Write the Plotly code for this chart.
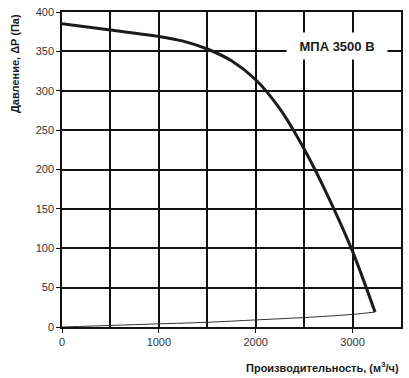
import plotly.graph_objects as go

# Pressure curve (Pa) vs flow (m3/h)
flow_p = [0, 500, 1000, 1250, 1500, 1750, 2000, 2250, 2500, 2750, 3000, 3232]
pressure = [385, 377, 369, 363, 353, 338, 314, 277, 226, 165, 96, 19]

# System curve
flow_s = [0, 500, 1000, 1500, 2000, 2500, 3000, 3232]
system = [0, 2, 4, 6, 9, 12, 16, 19]

label_text = "МПА 3500 В"
x_title = "Производительность, (м<sup>3</sup>/ч)"
y_title = "Давление, ΔP (Па)"

fig = go.Figure()
fig.add_trace(go.Scatter(x=flow_p, y=pressure, mode="lines",
                         line=dict(color="#1a1a1a", width=3, shape="spline", smoothing=0.8),
                         showlegend=False, hoverinfo="skip"))
fig.add_trace(go.Scatter(x=flow_s, y=system, mode="lines",
                         line=dict(color="#333333", width=1, shape="spline", smoothing=0.8),
                         showlegend=False, hoverinfo="skip"))

font = "Liberation Sans, Arial, sans-serif"
grid = dict(showgrid=True, gridcolor="#111111", gridwidth=1.5)
fig.update_layout(
    width=409, height=378,
    margin=dict(l=62, r=6, t=12, b=51),
    paper_bgcolor="white", plot_bgcolor="white",
    font=dict(family=font, size=11, color="#333333"),
    xaxis=dict(range=[0, 3500], tickmode="array", tickvals=[0, 1000, 2000, 3000],
               ticktext=["0", "1000", "2000", "3000"],
               ticks="outside", ticklen=4, tickcolor="#111111",
               showline=True, linecolor="#111111", linewidth=1.5, mirror=True, zeroline=False,
               minor=dict(dtick=500, tick0=0, **grid), fixedrange=True, **grid),
    yaxis=dict(range=[0, 400], dtick=50, ticks="outside", ticklen=4, tickcolor="#111111",
               showline=True, linecolor="#111111", linewidth=1.5, mirror=True, zeroline=False,
               fixedrange=True, **grid),
    annotations=[
        dict(x=2835, y=357, xref="x", yref="y", text="<b>" + label_text + "</b>",
             showarrow=False, bgcolor="white", font=dict(size=13, color="#1a1a1a", family=font),
             width=100, height=26, borderpad=0),
        dict(x=1.0, y=-0.098, xref="paper", yref="paper", xanchor="right", yanchor="top",
             text="<b>" + x_title + "</b>", showarrow=False,
             font=dict(size=11, color="#1a1a1a", family=font)),
        dict(x=-0.14, y=1.0, xref="paper", yref="paper", xanchor="center", yanchor="top",
             text="<b>" + y_title + "</b>", showarrow=False, textangle=-90,
             font=dict(size=11, color="#1a1a1a", family=font)),
    ],
)
fig.write_html("out.html", config={"displayModeBar": False},
               post_script="document.body.style.margin='0px';document.body.style.overflow='hidden';")
